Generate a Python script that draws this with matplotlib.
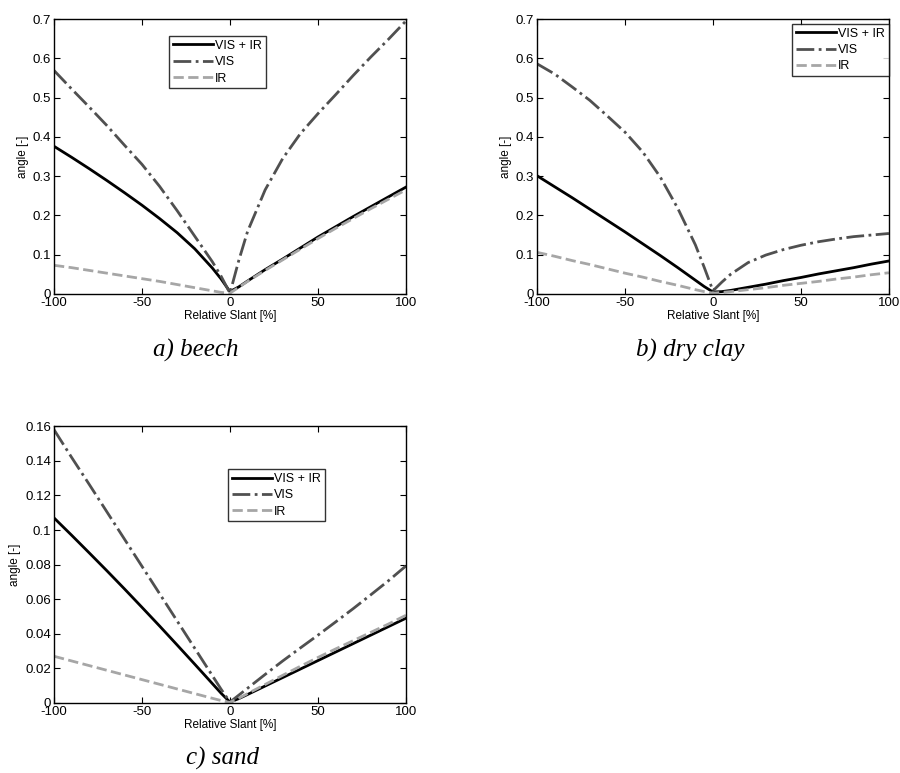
import matplotlib
matplotlib.use("Agg")
import matplotlib.pyplot as plt

plt.rcParams['font.family'] = ['Liberation Sans', 'DejaVu Sans']

x = [-100, -90, -80, -70, -60, -50, -40, -30, -20, -10, -5, 0,
     5, 10, 20, 30, 40, 50, 60, 70, 80, 90, 100]

a_visir = [0.376, 0.348, 0.319, 0.289, 0.258, 0.226, 0.192, 0.156, 0.115, 0.066, 0.038, 0.006,
           0.018, 0.033, 0.062, 0.089, 0.117, 0.145, 0.171, 0.197, 0.222, 0.247, 0.272]
a_vis = [0.569, 0.522, 0.476, 0.429, 0.379, 0.330, 0.274, 0.212, 0.147, 0.082, 0.045, 0.002,
         0.085, 0.159, 0.265, 0.345, 0.408, 0.459, 0.507, 0.556, 0.603, 0.648, 0.695]
a_ir = [0.073, 0.067, 0.060, 0.053, 0.046, 0.039, 0.032, 0.024, 0.016, 0.008, 0.004, 0.002,
        0.017, 0.032, 0.060, 0.087, 0.114, 0.141, 0.167, 0.192, 0.217, 0.241, 0.265]

b_visir = [0.301, 0.273, 0.245, 0.216, 0.187, 0.158, 0.128, 0.098, 0.067, 0.035, 0.019, 0.005,
           0.006, 0.009, 0.017, 0.025, 0.034, 0.042, 0.051, 0.059, 0.067, 0.076, 0.084]
b_vis = [0.586, 0.560, 0.527, 0.493, 0.453, 0.412, 0.362, 0.298, 0.218, 0.125, 0.068, 0.008,
         0.030, 0.050, 0.080, 0.099, 0.113, 0.124, 0.133, 0.140, 0.146, 0.150, 0.154]
b_ir = [0.106, 0.096, 0.085, 0.075, 0.064, 0.053, 0.043, 0.032, 0.022, 0.011, 0.006, 0.002,
        0.004, 0.006, 0.011, 0.016, 0.022, 0.027, 0.032, 0.038, 0.043, 0.049, 0.054]

c_visir = [0.107, 0.097, 0.0868, 0.0765, 0.0660, 0.0553, 0.0445, 0.0335, 0.0224, 0.0112, 0.0056, 0.0005,
           0.0025, 0.0049, 0.0098, 0.0147, 0.0196, 0.0245, 0.0294, 0.0343, 0.0392, 0.0441, 0.049]
c_vis = [0.158, 0.142, 0.1264, 0.1106, 0.0948, 0.079, 0.0632, 0.0474, 0.0316, 0.0158, 0.0079, 0.0005,
         0.0045, 0.0085, 0.0165, 0.0243, 0.0318, 0.0392, 0.0468, 0.0545, 0.0625, 0.0706, 0.0792]
c_ir = [0.027, 0.0243, 0.0216, 0.0189, 0.0162, 0.0135, 0.0108, 0.0081, 0.0054, 0.0027, 0.0014, 0.0003,
        0.0027, 0.0054, 0.0107, 0.016, 0.0212, 0.0263, 0.0312, 0.036, 0.0408, 0.0456, 0.0507]

series_labels = ['VIS + IR', 'VIS', 'IR']
captions = ['a) beech', 'b) dry clay', 'c) sand']
x_ticks = [-100, -50, 0, 50, 100]
y_ticks_ab = [0, 0.1, 0.2, 0.3, 0.4, 0.5, 0.6, 0.7]
y_ticks_c = [0, 0.02, 0.04, 0.06, 0.08, 0.1, 0.12, 0.14, 0.16]

fig = plt.figure(figsize=(9, 7.73), dpi=100)

panels = [
    dict(rect=[0.060, 0.6197, 0.391, 0.3557], data=(a_visir, a_vis, a_ir),
         yt=y_ticks_ab, ylim=(0, 0.7), leg=(0.327, 0.938), cap=(196/900, 1-350/773)),
    dict(rect=[0.5967, 0.6197, 0.391, 0.3557], data=(b_visir, b_vis, b_ir),
         yt=y_ticks_ab, ylim=(0, 0.7), leg=(0.724, 0.982), cap=(690/900, 1-350/773)),
    dict(rect=[0.060, 0.0906, 0.391, 0.358], data=(c_visir, c_vis, c_ir),
         yt=y_ticks_c, ylim=(0, 0.16), leg=(0.494, 0.845), cap=(222/900, 1-758/773)),
]

styles = [
    dict(color='black', linestyle='-', linewidth=2.0),
    dict(color='#505050', linestyle='-.', linewidth=2.0),
    dict(color='#a6a6a6', linestyle='--', linewidth=2.0),
]

for p, cap in zip(panels, captions):
    ax = fig.add_axes(p['rect'])
    for ys, lab, st in zip(p['data'], series_labels, styles):
        ax.plot(x, ys, label=lab, **st)
    ax.set_xlim(-100, 100)
    ax.set_ylim(*p['ylim'])
    ax.set_xticks(x_ticks)
    ax.set_xticklabels([str(v) for v in x_ticks])
    ax.set_yticks(p['yt'])
    ax.set_yticklabels([('%g' % v) for v in p['yt']])
    ax.tick_params(direction='in', top=True, right=True, length=4, labelsize=9.5, pad=2)
    ax.set_xlabel('Relative Slant [%]', fontsize=8.5, labelpad=1)
    ax.set_ylabel('angle [-]', fontsize=8.5, labelpad=3)
    for s in ax.spines.values():
        s.set_linewidth(1.0)
    leg = ax.legend(loc='upper left', bbox_to_anchor=p['leg'], fontsize=9,
                    frameon=True, fancybox=False, edgecolor='black',
                    handlelength=3.2, handletextpad=0.2, labelspacing=0.35,
                    borderpad=0.3, borderaxespad=0)
    leg.get_frame().set_linewidth(1.0)
    fig.text(p['cap'][0], p['cap'][1], cap, ha='center', va='center',
             family='Liberation Serif', style='italic', fontsize=18)

fig.savefig('out.png', dpi=100)
